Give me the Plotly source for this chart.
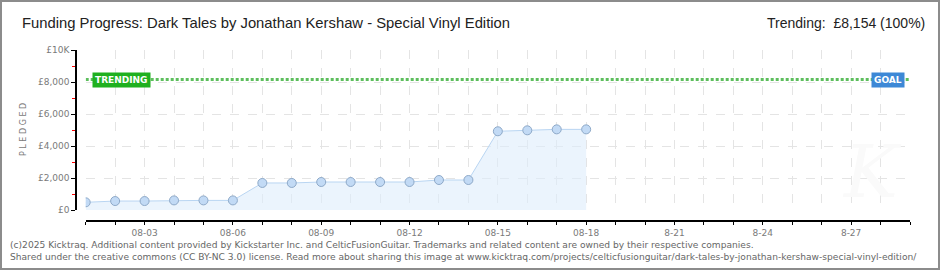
import plotly.graph_objects as go

# ---- data ----
dates = ["2025-08-%02d" % d for d in range(1, 19)]
pledged = [480, 560, 560, 600, 600, 600, 1690, 1690, 1750, 1750, 1750, 1750,
           1875, 1875, 4920, 4980, 5040, 5040]
trend_dates = ["2025-08-01", "2025-08-29"]
trend_value = [8154, 8154]
x_tick_vals = ["2025-08-03", "2025-08-06", "2025-08-09", "2025-08-12", "2025-08-15",
               "2025-08-18", "2025-08-21", "2025-08-24", "2025-08-27"]
x_tick_text = ["08-03", "08-06", "08-09", "08-12", "08-15", "08-18", "8-21", "8-24", "8-27"]
y_tick_vals = [0, 2000, 4000, 6000, 8000, 10000]
y_tick_text = ["£0", "£2,000", "£4,000", "£6,000", "£8,000", "£10K"]

W, H = 940, 270
L, R, T, B = 76, 30, 50, 49
PW, PH = W - L - R, H - T - B


def px(xp):
    return (xp - L) / PW


def py(yp):
    return 1 - (yp - T) / PH


fig = go.Figure()

fig.add_trace(go.Scatter(
    x=dates, y=pledged, mode="lines+markers",
    line=dict(color="#b9d5f2", width=1),
    fill="tozeroy", fillcolor="rgba(222,236,251,0.6)",
    marker=dict(size=9, color="#c2daf5", line=dict(color="#8ea9c8", width=1)),
    hoverinfo="x+y", showlegend=False,
))

fig.add_trace(go.Scatter(
    x=trend_dates, y=trend_value, mode="lines",
    line=dict(color="#4cb84c", width=3, dash="3px,2px"),
    hoverinfo="skip", showlegend=False, opacity=0.9,
))

tick_font = dict(family="DejaVu Sans", size=9, color="#7a7a7a")

fig.update_layout(
    width=W, height=H,
    margin=dict(l=L, r=R, t=T, b=B, pad=0),
    paper_bgcolor="white", plot_bgcolor="white",
    xaxis=dict(
        type="date", domain=[px(85.7), 1], anchor="free", position=0,
        range=["2025-08-01", "2025-08-29"],
        tickvals=x_tick_vals, ticktext=x_tick_text,
        ticks="outside", ticklen=3, tickcolor="black", tickwidth=1,
        showline=True, linecolor="black", linewidth=1.5,
        showgrid=True, gridcolor="#e4e4e4", griddash="dash", gridwidth=1,
        minor=dict(dtick=86400000, tick0="2025-08-01", ticks="outside", ticklen=3,
                   tickcolor="black", showgrid=True, gridcolor="#e4e4e4", griddash="dash"),
        tickfont=tick_font, zeroline=False, fixedrange=True,
    ),
    yaxis=dict(
        domain=[py(210), 1], anchor="free", position=0,
        range=[0, 10000],
        tickvals=y_tick_vals, ticktext=y_tick_text,
        ticks="outside", ticklen=4, tickcolor="black", tickwidth=1,
        showline=True, linecolor="black", linewidth=1.5,
        showgrid=True, gridcolor="#e4e4e4", griddash="dash",
        minor=dict(dtick=1000, ticks="outside", ticklen=3, tickcolor="red", showgrid=False),
        tickfont=tick_font, zeroline=False, fixedrange=True,
    ),
)

ann = []
ann.append(dict(xref="paper", yref="paper", x=px(872), y=py(172), xanchor="center", yanchor="middle",
                text="<i>K</i>", showarrow=False,
                font=dict(family="DejaVu Serif", size=72, color="#fafafa")))
ann.append(dict(xref="paper", yref="paper", x=px(20), y=py(23), xanchor="left", yanchor="middle",
                text="Funding Progress: Dark Tales by Jonathan Kershaw - Special Vinyl Edition",
                showarrow=False, font=dict(family="Liberation Sans", size=14.8, color="#222222")))
ann.append(dict(xref="paper", yref="paper", x=px(927), y=py(23), xanchor="right", yanchor="middle",
                text="Trending:  £8,154 (100%)",
                showarrow=False, font=dict(family="Liberation Sans", size=14, color="#222222")))
ann.append(dict(xref="paper", yref="paper", x=px(23), y=py(130), xanchor="center", yanchor="middle",
                text="P L E D G E D", textangle=-90,
                showarrow=False, font=dict(family="DejaVu Sans", size=8, color="#7a7a7a")))
ann.append(dict(xref="paper", yref="y", x=px(121), y=trend_value[0], xanchor="center", yanchor="middle",
                text="<b>TRENDING</b>", showarrow=False, bgcolor="#1fb01f", borderpad=2,
                font=dict(family="DejaVu Sans", size=9, color="white")))
ann.append(dict(xref="paper", yref="y", x=px(888), y=trend_value[0], xanchor="center", yanchor="middle",
                text="<b>GOAL</b>", showarrow=False, bgcolor="#3d88d6", borderpad=2,
                font=dict(family="DejaVu Sans", size=9, color="white")))
ann.append(dict(xref="paper", yref="paper", x=px(8), y=py(245), xanchor="left", yanchor="middle",
                text="(c)2025 Kicktraq. Additional content provided by Kickstarter Inc. and CelticFusionGuitar. Trademarks and related content are owned by their respective companies.",
                showarrow=False, font=dict(family="DejaVu Sans", size=9.1, color="#666666")))
ann.append(dict(xref="paper", yref="paper", x=px(8), y=py(257), xanchor="left", yanchor="middle",
                text="Shared under the creative commons (CC BY-NC 3.0) license. Read more about sharing this image at www.kicktraq.com/projects/celticfusionguitar/dark-tales-by-jonathan-kershaw-special-vinyl-edition/",
                showarrow=False, font=dict(family="DejaVu Sans", size=9.1, color="#666666")))
fig.update_layout(annotations=ann)

fig.add_shape(type="rect", xref="paper", yref="paper",
              x0=px(1), x1=px(W - 1), y0=py(H - 1), y1=py(1),
              line=dict(color="#8c8c8c", width=2), fillcolor="rgba(0,0,0,0)", layer="above")

fig.write_html("out.html")
